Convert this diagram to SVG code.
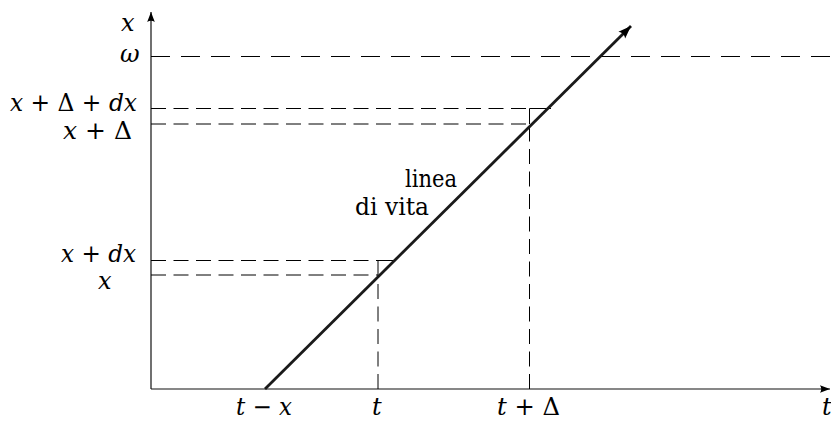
<svg xmlns="http://www.w3.org/2000/svg" width="831" height="421" viewBox="0 0 831 421">
<style>
  .lbl { font-family: 'DejaVu Serif', serif; font-size: 24px; fill: #000; }
  .m { font-style: italic; }
  .u { font-style: normal; }
  .axis { stroke: #111; stroke-width: 1.2; fill: none; }
  .dl { stroke: #000; stroke-width: 1; fill: none; stroke-dasharray: 15 7.5; }
  .dw { stroke: #000; stroke-width: 1; fill: none; stroke-dasharray: 19 11; }
  .sl { stroke: #000; stroke-width: 1; fill: none; }
  .life { stroke: #1a1a1a; stroke-width: 2.8; fill: none; }
</style>
<defs>
  <marker id="ax" markerUnits="userSpaceOnUse" markerWidth="12" markerHeight="10" viewBox="-11 -5 12 10" refX="0" refY="0" orient="auto">
    <path d="M0,0 L-10,-3.8 Q-7.5,0 -10,3.8 Z" fill="#000"/>
  </marker>
  <marker id="lh" markerUnits="userSpaceOnUse" markerWidth="16" markerHeight="12" viewBox="-14 -6 15 12" refX="0" refY="0" orient="auto">
    <path d="M0,0 L-13,-4.8 Q-9.5,0 -13,4.8 Z" fill="#000"/>
  </marker>
</defs>

<g id="connectors">
  <path id="t-axis" class="axis" d="M151,389 H830" marker-end="url(#ax)"/>
  <path id="x-axis" class="axis" d="M151,389 V12" marker-end="url(#ax)"/>
  <path id="omega-line" class="dw" d="M151,56.5 H831"/>
  <path class="dl" d="M151,108.5 H529.5"/>
  <path class="sl" d="M529.5,108.5 H551"/>
  <path class="dl" d="M151,124 H529.5"/>
  <path class="dl" d="M529.5,389 V124"/>
  <path class="sl" d="M529.5,124 V108.5"/>
  <path class="dl" d="M151,260.5 H378"/>
  <path class="sl" d="M378,260.5 H393"/>
  <path class="dl" d="M151,275 H378"/>
  <path class="dl" d="M378,389 V275"/>
  <path class="sl" d="M378,275 V260.5"/>
  <path id="life-line" class="life" d="M265,389 L631,26" marker-end="url(#lh)"/>
</g>

<g class="lbl">
<g id="label-x-axis"><text class="m" x="121" y="31">x</text></g>
<g id="label-omega"><text class="m" x="120" y="62">ω</text></g>
<g id="label-x-delta-dx"><text x="10" y="111" textLength="127" lengthAdjust="spacingAndGlyphs"><tspan class="m">x</tspan><tspan class="u"> + Δ + </tspan><tspan class="m">dx</tspan></text></g>
<g id="label-x-delta"><text x="63" y="139" textLength="69" lengthAdjust="spacingAndGlyphs"><tspan class="m">x</tspan><tspan class="u"> + Δ</tspan></text></g>
<g id="label-x-dx"><text x="61" y="262" textLength="75" lengthAdjust="spacingAndGlyphs"><tspan class="m">x</tspan><tspan class="u"> + </tspan><tspan class="m">dx</tspan></text></g>
<g id="label-x"><text class="m" x="98" y="289">x</text></g>
<g id="label-t-minus-x"><text x="236" y="415" textLength="56" lengthAdjust="spacingAndGlyphs"><tspan class="m">t</tspan><tspan class="u"> − </tspan><tspan class="m">x</tspan></text></g>
<g id="label-t"><text class="m" x="372" y="415">t</text></g>
<g id="label-t-delta"><text x="497" y="415" textLength="63" lengthAdjust="spacingAndGlyphs"><tspan class="m">t</tspan><tspan class="u"> + Δ</tspan></text></g>
<g id="label-t-axis"><text class="m" x="822" y="415">t</text></g>
<g id="label-life"><text class="u" x="405" y="187" textLength="52" lengthAdjust="spacingAndGlyphs">linea</text><text class="u" x="355" y="215" textLength="74" lengthAdjust="spacingAndGlyphs">di vita</text></g>
</g>
</svg>
